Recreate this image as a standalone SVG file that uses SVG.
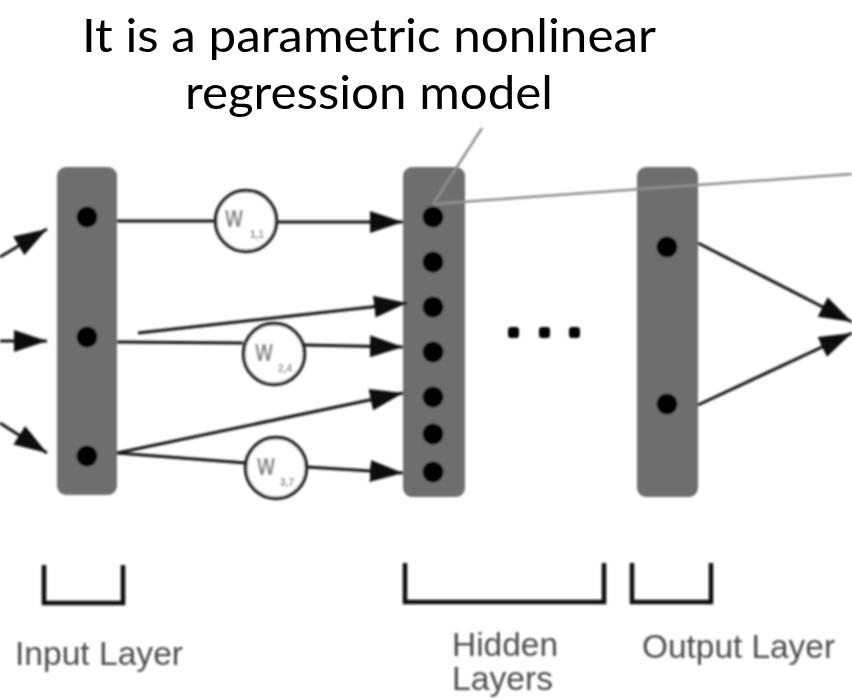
<svg xmlns="http://www.w3.org/2000/svg" width="852" height="700" viewBox="0 0 852 700">
  <defs>
    <marker id="arrow" markerUnits="userSpaceOnUse" markerWidth="34" markerHeight="24" refX="33" refY="11" orient="auto">
      <path d="M0,0 L33,11 L0,22 Z" fill="#111"/>
    </marker>
    <filter id="soft" x="-5%" y="-5%" width="110%" height="110%">
      <feGaussianBlur stdDeviation="0.9"/>
    </filter>
  </defs>
  <style>
    .title { font-family: "Lato", "Open Sans", sans-serif; font-size: 47px; fill: #000; }
    .bar { fill: #6e6e6e; }
    .dot { fill: #000; }
    .wire { stroke: #151515; stroke-width: 3; fill: none; }
    .arrow { marker-end: url(#arrow); }
    .callout { stroke: #8f8f8f; stroke-width: 2.5; fill: none; }
    .weight circle { fill: #fff; stroke: #1e1e1e; stroke-width: 3.5; }
    .wlabel { font-family: "Liberation Sans", Arial, sans-serif; font-size: 23px; font-weight: bold; fill: #858585; }
    .wsub { font-family: "Liberation Sans", Arial, sans-serif; font-size: 10px; font-weight: bold; fill: #8a8a8a; }
    .bracket { stroke: #111; stroke-width: 4.5; fill: none; stroke-linejoin: miter; }
    .label { font-family: "Liberation Sans", Arial, sans-serif; font-size: 33px; fill: #4e4e4e; }
  </style>

  <rect width="852" height="700" fill="#fff"/>

  <!-- heading -->
  <text class="title" x="369" y="52" text-anchor="middle" textLength="574" lengthAdjust="spacingAndGlyphs">It is a parametric nonlinear</text>
  <text class="title" x="369" y="109" text-anchor="middle" textLength="368" lengthAdjust="spacingAndGlyphs">regression model</text>

  <g filter="url(#soft)">
    <!-- layer columns -->
    <g id="input-layer">
      <rect class="bar" x="57" y="167" width="60" height="328" rx="9"/>
      <circle class="dot" cx="87" cy="217" r="10.5"/>
      <circle class="dot" cx="87" cy="337" r="10.5"/>
      <circle class="dot" cx="87" cy="456" r="10.5"/>
    </g>
    <g id="hidden-layer">
      <rect class="bar" x="403" y="167" width="62" height="330" rx="9"/>
      <circle class="dot" cx="433" cy="217" r="10.5"/>
      <circle class="dot" cx="433" cy="262" r="10.5"/>
      <circle class="dot" cx="433" cy="307" r="10.5"/>
      <circle class="dot" cx="433" cy="352" r="10.5"/>
      <circle class="dot" cx="433" cy="397" r="10.5"/>
      <circle class="dot" cx="433" cy="434" r="10.5"/>
      <circle class="dot" cx="433" cy="472" r="10.5"/>
    </g>
    <g id="ellipsis">
      <rect class="dot" x="508" y="327" width="11" height="11" rx="3"/>
      <rect class="dot" x="539" y="327" width="11" height="11" rx="3"/>
      <rect class="dot" x="569" y="327" width="11" height="11" rx="3"/>
    </g>
    <g id="output-layer">
      <rect class="bar" x="637" y="167" width="61" height="330" rx="9"/>
      <circle class="dot" cx="667" cy="247" r="10.5"/>
      <circle class="dot" cx="667" cy="404" r="10.5"/>
    </g>

    <!-- connections -->
    <g id="connectors">
      <path class="wire arrow" d="M0,257 L47,229"/>
      <path class="wire arrow" d="M0,341 L47,341"/>
      <path class="wire arrow" d="M0,423 L47,453"/>

      <path class="wire" d="M117,221 L216,221"/>
      <path class="wire arrow" d="M277,222 L403,222"/>

      <path class="wire" d="M117,342 L243,343"/>
      <path class="wire arrow" d="M304,345 L403,347"/>
      <path class="wire arrow" d="M138,333 L407,303"/>

      <path class="wire arrow" d="M117,453 L403,393"/>
      <path class="wire" d="M117,453 L246,463"/>
      <path class="wire arrow" d="M307,467 L403,473"/>

      <path class="wire arrow" d="M698,243 L852,322"/>
      <path class="wire arrow" d="M698,405 L852,333"/>

      <path class="callout" d="M482,128 L433,204"/>
      <path class="callout" d="M433,204 L852,174"/>
    </g>

    <!-- weights -->
    <g id="w11" class="weight">
      <circle cx="246" cy="221" r="30.5"/>
      <text class="wlabel" x="225" y="227" textLength="18" lengthAdjust="spacingAndGlyphs">W</text>
      <text class="wsub" x="250" y="238" textLength="14" lengthAdjust="spacingAndGlyphs">1,1</text>
    </g>
    <g id="w24" class="weight">
      <circle cx="274" cy="354" r="30.5"/>
      <text class="wlabel" x="255" y="361" textLength="18" lengthAdjust="spacingAndGlyphs">W</text>
      <text class="wsub" x="278" y="372" textLength="14" lengthAdjust="spacingAndGlyphs">2,4</text>
    </g>
    <g id="w37" class="weight">
      <circle cx="276" cy="468" r="30.5"/>
      <text class="wlabel" x="257" y="475" textLength="18" lengthAdjust="spacingAndGlyphs">W</text>
      <text class="wsub" x="280" y="486" textLength="14" lengthAdjust="spacingAndGlyphs">3,7</text>
    </g>

    <!-- layer brackets and captions -->
    <g id="input-caption">
      <path class="bracket" d="M44,565 V603 H123 V565"/>
      <text class="label" x="15" y="665" textLength="168" lengthAdjust="spacingAndGlyphs">Input Layer</text>
    </g>
    <g id="hidden-caption">
      <path class="bracket" d="M405,563 V602 H604 V563"/>
      <text class="label" x="452" y="656" textLength="106" lengthAdjust="spacingAndGlyphs">Hidden</text>
      <text class="label" x="452" y="690" textLength="101" lengthAdjust="spacingAndGlyphs">Layers</text>
    </g>
    <g id="output-caption">
      <path class="bracket" d="M632,563 V602 H711 V563"/>
      <text class="label" x="642" y="658" textLength="193" lengthAdjust="spacingAndGlyphs">Output Layer</text>
    </g>
  </g>
</svg>
